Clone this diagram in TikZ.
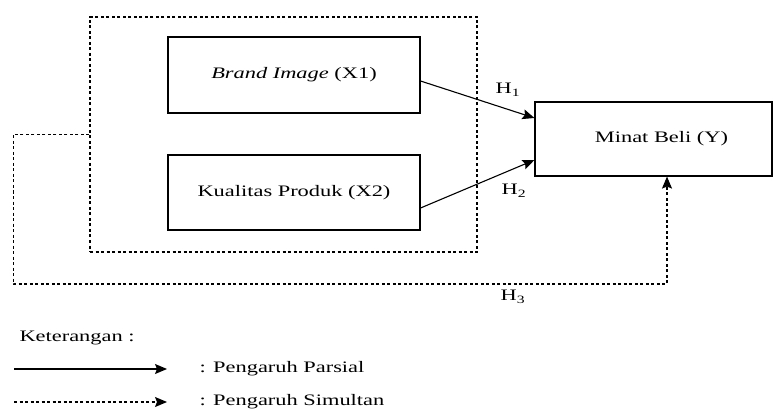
\documentclass[tikz,border=0pt]{standalone}
\usepackage{fontspec}
\setmainfont{Liberation Serif}[FakeStretch=1.4]
\usetikzlibrary{arrows.meta}

\begin{document}
\begin{tikzpicture}[x=1pt,y=-1pt,
   font=\fontsize{16}{19}\selectfont,
   >={Stealth[length=12pt,width=10pt,inset=2pt]},
   var/.style={draw,line width=1.1pt,inner sep=0pt},
   parsial/.style={line width=1.1pt,->},
   simultan/.style={line width=1.1pt,dash pattern=on 3pt off 2.5pt,->}]
\useasboundingbox (0,0) rectangle (774,409);
% variabel
\node[var,minimum width=252pt,minimum height=76pt] (brand) at (294,75) {\textit{Brand Image} (X1)};
\node[var,minimum width=252pt,minimum height=75pt] (kualitas) at (294,192.5) {Kualitas Produk (X2)};
\node[var,minimum width=237pt,minimum height=74pt] (minat) at (653.5,139) {\hspace{16pt}Minat Beli (Y)};
\node[draw,line width=1.1pt,dash pattern=on 3pt off 2.5pt,minimum width=387pt,minimum height=235pt] (grup) at (283.5,134.5) {};
% hipotesis
\draw[parsial] ([yshift=-6pt]brand.east) -- ([yshift=21pt]minat.west);
\draw[parsial] ([yshift=-15.5pt]kualitas.east) -- ([yshift=-21pt]minat.west);
\coordinate (h3) at (667,284);
\draw[simultan] (grup.west) -- ++(-76,0) |- (h3) -- (minat.south -| h3);
\node (h1) at (508,90) {H\textsubscript{1}};
\node (h2) at (514,191) {H\textsubscript{2}};
\node (h3lab) at (513,297) {H\textsubscript{3}};
% keterangan
\node[anchor=west] (ket) at (16,338) {Keterangan :};
\coordinate (p0) at (14,369);
\coordinate (p1) at (167,369);
\coordinate (s0) at (14,402);
\coordinate (s1) at (167,402);
\draw[parsial] (p0) -- (p1);
\draw[simultan] (s0) -- (s1);
\node[anchor=west] (parsial) at (196,369) {: Pengaruh Parsial};
\node[anchor=west] (simultan) at (196,402) {: Pengaruh Simultan};
\end{tikzpicture}
\end{document}
